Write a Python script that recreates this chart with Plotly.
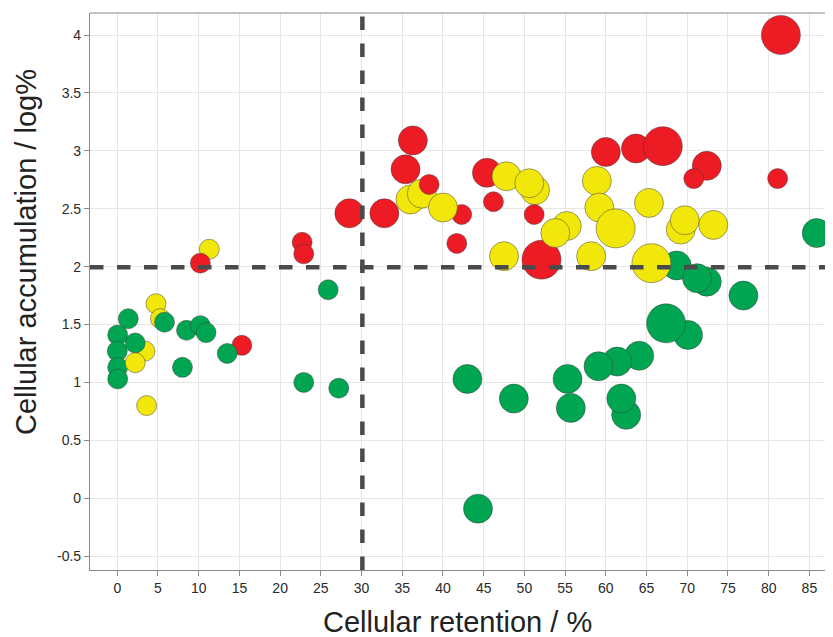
import plotly.graph_objects as go

# Data (drawing order matters for overlaps)
retention = [3.4, 0.05, 0.0, 0.05, 0.05, 1.35, 2.2, 2.2, 3.6, 4.75, 5.3, 5.8, 8.5, 10.2, 10.9, 8.0,
             15.3, 13.5, 11.3, 10.2, 22.7, 22.9, 25.9, 22.9, 27.2,
             28.5, 32.8, 36.3, 35.4, 36.0, 37.4, 38.3, 42.3, 40.0, 41.7,
             45.4, 47.8, 46.2, 51.3, 50.6, 51.2, 52.1, 55.2, 53.8, 47.5, 58.2,
             58.9, 59.2, 61.2, 60.0, 63.7, 67.0, 65.3, 72.4, 70.8, 81.1, 81.5,
             69.2, 69.7, 73.2, 85.9, 68.7, 65.6, 72.4, 71.2, 76.9, 70.1, 67.4,
             64.1, 61.4, 59.1, 62.5, 61.9, 55.7, 55.3, 43.0, 48.7, 44.3]
accumulation = [1.27, 1.41, 1.27, 1.13, 1.03, 1.55, 1.34, 1.17, 0.80, 1.68, 1.55, 1.52, 1.45, 1.49, 1.43, 1.13,
                1.32, 1.25, 2.15, 2.03, 2.21, 2.11, 1.80, 1.00, 0.95,
                2.46, 2.46, 3.09, 2.84, 2.58, 2.63, 2.71, 2.45, 2.51, 2.20,
                2.81, 2.78, 2.56, 2.66, 2.72, 2.45, 2.06, 2.35, 2.29, 2.09, 2.09,
                2.74, 2.51, 2.33, 2.99, 3.02, 3.04, 2.55, 2.87, 2.76, 2.76, 4.00,
                2.32, 2.40, 2.36, 2.29, 2.01, 2.03, 1.87, 1.90, 1.75, 1.41, 1.51,
                1.23, 1.18, 1.14, 0.72, 0.86, 0.78, 1.03, 1.03, 0.86, -0.09]
weight = [1, 1, 1, 1, 1, 1, 1, 1, 1, 1, 1, 1, 1, 1, 1, 1,
          1, 1, 1, 1, 1, 1, 1, 1, 1,
          2, 2, 2, 2, 2, 2, 1, 1, 2, 1,
          2, 2, 1, 2, 2, 1, 3, 2, 2, 2, 2,
          2, 2, 3, 2, 2, 3, 2, 2, 1, 1, 3,
          2, 2, 2, 2, 2, 3, 2, 2, 2, 2, 3,
          2, 2, 2, 2, 2, 2, 2, 2, 2, 2]
group = ["Y", "G", "G", "G", "G", "G", "G", "Y", "Y", "Y", "Y", "G", "G", "G", "G", "G",
         "R", "G", "Y", "R", "R", "R", "G", "G", "G",
         "R", "R", "R", "R", "Y", "Y", "R", "R", "Y", "R",
         "R", "Y", "R", "Y", "Y", "R", "R", "Y", "Y", "Y", "Y",
         "Y", "Y", "Y", "R", "R", "R", "Y", "R", "R", "R", "R",
         "Y", "Y", "Y", "G", "G", "Y", "G", "G", "G", "G", "G",
         "G", "G", "G", "G", "G", "G", "G", "G", "G", "G"]

x_ticks = list(range(0, 90, 5))
y_tickvals = [-0.5, 0, 0.5, 1, 1.5, 2, 2.5, 3, 3.5, 4]
y_ticktext = ["-0.5", "0", "0.5", "1", "1.5", "2", "2.5", "3", "3.5", "4"]
x_threshold = 30.1
y_threshold = 1.995

palette = {"R": "#ED1C24", "Y": "#F2E70A", "G": "#00A551"}
diam = {1: 20, 2: 29, 3: 39}

fig = go.Figure()
fig.add_trace(go.Scatter(
    x=retention, y=accumulation, mode="markers",
    marker=dict(size=[diam[w] for w in weight], color=[palette[g] for g in group],
                opacity=1, line=dict(color="rgba(60,60,60,0.8)", width=0.6)),
    showlegend=False, hoverinfo="x+y"))

fig.add_shape(type="line", xref="x", yref="paper", x0=x_threshold, x1=x_threshold, y0=0, y1=1,
              line=dict(color="#4a4a4a", width=4.5, dash="dash"))
fig.add_shape(type="line", xref="paper", yref="y", x0=0, x1=1, y0=y_threshold, y1=y_threshold,
              line=dict(color="#4a4a4a", width=4.5, dash="dash"))

axis_font = dict(family="Liberation Sans, Arial, sans-serif", size=14, color="#2a2a2a")
fig.update_xaxes(range=[-3.35, 87.9], tickvals=x_ticks, tickfont=axis_font,
                 showgrid=True, gridcolor="#e6e6e2", gridwidth=1, zeroline=False,
                 showline=True, linecolor="#8a8a8a", linewidth=1.2, mirror=False,
                 ticks="outside", ticklen=5, tickcolor="#8a8a8a")
fig.update_yaxes(range=[-0.62, 4.19], tickvals=y_tickvals, ticktext=y_ticktext, tickfont=axis_font,
                 showgrid=True, gridcolor="#e6e6e2", gridwidth=1, zeroline=False,
                 showline=True, linecolor="#8a8a8a", linewidth=1.2, mirror=False,
                 ticks="outside", ticklen=5, tickcolor="#8a8a8a")

# top border
fig.add_shape(type="line", xref="paper", yref="paper", x0=0, x1=1, y0=1, y1=1,
              line=dict(color="#8a8a8a", width=1.2))

title_font = dict(family="Liberation Sans, Arial, sans-serif", size=29, color="#222222")
fig.add_annotation(text="Cellular retention / %", xref="paper", yref="paper", x=0.5, y=0,
                   yanchor="middle", xanchor="center", yshift=-52, xshift=-4,
                   showarrow=False, font=title_font)
fig.add_annotation(text="Cellular accumulation / log%", xref="paper", yref="paper", x=0, y=0.571,
                   xanchor="center", yanchor="middle", xshift=-64, textangle=-90, showarrow=False,
                   font=title_font)

# page body has an 8px margin, so the figure is sized to end at the window edge
fig.update_layout(width=825, height=629, margin=dict(l=82, r=0, t=5, b=67),
                  plot_bgcolor="white", paper_bgcolor="white")

fig.write_html("out.html")
